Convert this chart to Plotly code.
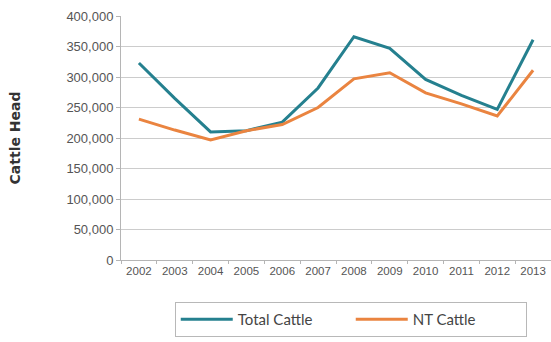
import plotly.graph_objects as go

years = ["2002", "2003", "2004", "2005", "2006", "2007", "2008",
         "2009", "2010", "2011", "2012", "2013"]
total_cattle = [323000, 265000, 210000, 212000, 226000, 282000, 366000,
                347000, 296000, 270000, 247000, 361000]
nt_cattle = [231000, 213000, 197000, 212000, 222000, 250000, 297000,
             307000, 274000, 256000, 236000, 311000]
y_ticks = [0, 50000, 100000, 150000, 200000, 250000, 300000, 350000, 400000]

fig = go.Figure()
fig.add_trace(go.Scatter(x=years, y=total_cattle, mode="lines", name="Total Cattle",
                         line=dict(color="#25808f", width=3)))
fig.add_trace(go.Scatter(x=years, y=nt_cattle, mode="lines", name="NT Cattle",
                         line=dict(color="#ea8440", width=3)))

fig.update_layout(
    width=551, height=342,
    margin=dict(l=121, r=0, t=16, b=82),
    paper_bgcolor="white", plot_bgcolor="white",
    font=dict(family="Liberation Sans, Arial", color="#555555"),
    showlegend=True,
    legend=dict(orientation="h", x=0.125, xanchor="left", y=-0.172, yanchor="top",
                bordercolor="#b8b8b8", borderwidth=1, entrywidth=108,
                font=dict(family="Lato, DejaVu Sans", size=15, color="#444444"),
                itemwidth=52),
)
fig.update_xaxes(type="category", range=[-0.5, len(years) - 0.5],
                 showgrid=False, showline=True, linecolor="#b5b5b5",
                 ticks="outside", ticklen=3, tickcolor="#b5b5b5",
                 tickson="boundaries", tickangle=0,
                 tickfont=dict(size=11.5, color="#555555"))
fig.update_yaxes(range=[0, 400000], tickvals=y_ticks,
                 ticktext=[f"{v:,}" for v in y_ticks],
                 showgrid=True, gridcolor="#cccccc", gridwidth=1,
                 showline=True, linecolor="#b5b5b5", zeroline=False,
                 ticks="outside", ticklen=4, tickcolor="#b5b5b5",
                 tickfont=dict(size=13, color="#555555"),
                 title=dict(text="<b>Cattle Head</b>", standoff=42,
                            font=dict(family="DejaVu Sans", size=14, color="#333333")))

fig.write_html("out.html")
